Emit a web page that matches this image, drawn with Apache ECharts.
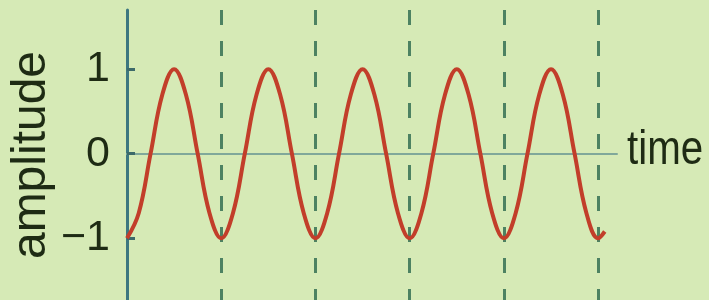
<!DOCTYPE html>
<html>
<head>
<meta charset="utf-8">
<script src="https://cdn.jsdelivr.net/npm/echarts@6/dist/echarts.min.js"></script>
<style>
  html, body { margin: 0; padding: 0; background: #d6eab6; }
  #chart { width: 709px; height: 300px; }
</style>
</head>
<body>
<div id="chart"></div>
<script>
// time in periods, amplitude (eighth-period samples)
const times = [
  0, 0.125, 0.25, 0.375, 0.5, 0.625, 0.75, 0.875,
  1, 1.125, 1.25, 1.375, 1.5, 1.625, 1.75, 1.875,
  2, 2.125, 2.25, 2.375, 2.5, 2.625, 2.75, 2.875,
  3, 3.125, 3.25, 3.375, 3.5, 3.625, 3.75, 3.875,
  4, 4.125, 4.25, 4.375, 4.5, 4.625, 4.75, 4.875,
  5, 5.07
]
const amplitude = [
  -1, -0.7, 0, 0.7, 1, 0.7, 0, -0.7,
  -1, -0.7, 0, 0.7, 1, 0.7, 0, -0.7,
  -1, -0.7, 0, 0.7, 1, 0.7, 0, -0.7,
  -1, -0.7, 0, 0.7, 1, 0.7, 0, -0.7,
  -1, -0.7, 0, 0.7, 1, 0.7, 0, -0.7,
  -1, -0.92
]
const yTickValues = [-1, 0, 1]
const yTickLabels = ['−1', '0', '1']

const textColor = '#1e2b14'
const chart = echarts.init(document.getElementById('chart'))
chart.setOption({
  backgroundColor: '#d6eab6',
  animation: false,
  grid: { left: 127, right: 92, top: 10, bottom: 0, outerBoundsMode: 'none', containLabel: false },
  // axis title drawn narrow, like the condensed face in the picture
  graphic: [{
    type: 'text',
    x: 627,
    y: 151,
    scaleX: 0.84,
    style: {
      text: 'time',
      font: '48px "Liberation Sans", Arial, sans-serif',
      fill: textColor,
      verticalAlign: 'middle'
    }
  }],
  xAxis: {
    type: 'value',
    min: 0,
    max: 5.2,
    interval: 1,
    axisLine: { onZero: true, lineStyle: { color: '#80a89a', width: 2 } },
    axisTick: { show: false },
    axisLabel: { show: false },
    splitLine: {
      show: true,
      showMinLine: false,
      showMaxLine: false,
      lineStyle: { color: '#4d8262', width: 3, type: [15, 16] }
    }
  },
  yAxis: {
    type: 'value',
    min: -1.73,
    max: 1.70,
    name: 'amplitude',
    nameLocation: 'middle',
    nameRotate: 90,
    nameGap: 71,
    nameMoveOverlap: false,
    nameTextStyle: {
      fontFamily: '"Liberation Sans", Arial, sans-serif',
      fontSize: 48,
      color: textColor
    },
    axisLine: { show: true, lineStyle: { color: '#3d7780', width: 3 } },
    axisTick: {
      show: true,
      inside: true,
      length: 8,
      customValues: yTickValues,
      lineStyle: { color: '#3d6a6a', width: 3 }
    },
    axisLabel: {
      customValues: yTickValues,
      margin: 17,
      fontFamily: '"Liberation Sans", Arial, sans-serif',
      fontSize: 43,
      color: textColor,
      formatter: v => yTickLabels[yTickValues.indexOf(v)]
    },
    splitLine: { show: false }
  },
  series: [{
    type: 'line',
    data: times.map((t, i) => [t, amplitude[i]]),
    smooth: 0.4,
    showSymbol: false,
    lineStyle: { color: '#c23e2a', width: 4 },
    z: 3
  }]
})
</script>
</body>
</html>
